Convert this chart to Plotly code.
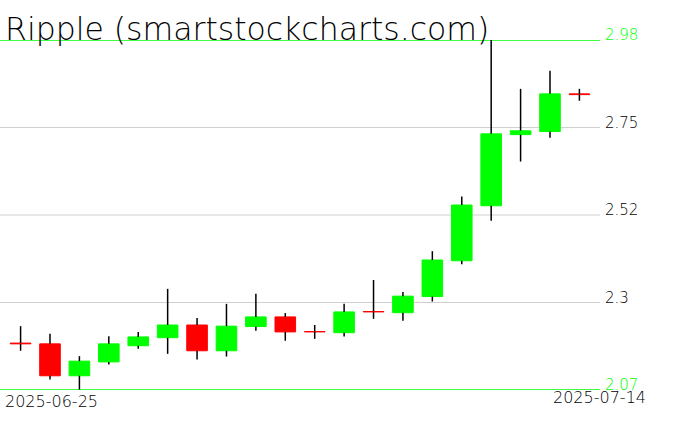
import plotly.graph_objects as go

dates = ["2025-06-25", "2025-06-26", "2025-06-27", "2025-06-28", "2025-06-29",
         "2025-06-30", "2025-07-01", "2025-07-02", "2025-07-03", "2025-07-04",
         "2025-07-05", "2025-07-06", "2025-07-07", "2025-07-08", "2025-07-09",
         "2025-07-10", "2025-07-11", "2025-07-12", "2025-07-13", "2025-07-14"]
open_ = [2.192, 2.190, 2.107, 2.143, 2.185, 2.206, 2.239, 2.172, 2.235, 2.260,
         2.222, 2.219, 2.274, 2.271, 2.313, 2.406, 2.549, 2.734, 2.742, 2.840]
close = [2.190, 2.107, 2.145, 2.190, 2.208, 2.239, 2.172, 2.236, 2.260, 2.221,
         2.221, 2.273, 2.273, 2.314, 2.408, 2.551, 2.736, 2.744, 2.840, 2.838]
high = [2.236, 2.216, 2.158, 2.210, 2.221, 2.333, 2.257, 2.294, 2.320, 2.270,
        2.239, 2.294, 2.356, 2.325, 2.431, 2.573, 2.980, 2.853, 2.900, 2.853]
low = [2.172, 2.097, 2.071, 2.136, 2.177, 2.164, 2.149, 2.157, 2.224, 2.198,
       2.203, 2.209, 2.255, 2.250, 2.300, 2.397, 2.510, 2.664, 2.726, 2.822]

tick_vals = [2.07, 2.2975, 2.525, 2.7525, 2.98]
tick_labels = ["2.07", "2.3", "2.52", "2.75", "2.98"]
edge_ticks = {"2.07", "2.98"}

title = "Ripple (smartstockcharts.com)"

GREEN = "#00ff00"
RED = "#ff0000"
FONT = "DejaVu Sans"

body_base = [min(o, c) for o, c in zip(open_, close)]
body_h = [abs(c - o) for o, c in zip(open_, close)]
body_col = [GREEN if c >= o else RED for o, c in zip(open_, close)]

wx, wy = [], []
for d, o, c, h, l in zip(dates, open_, close, high, low):
    top, bot = max(o, c), min(o, c)
    wx += [d, d, None, d, d, None]
    wy += [h, top, None, bot, l, None]

fig = go.Figure()
fig.add_trace(go.Bar(x=dates, y=body_h, base=body_base, width=0.7,
                     marker=dict(color=body_col, line=dict(color=body_col, width=1)),
                     hoverinfo="skip"))
fig.add_trace(go.Scatter(x=wx, y=wy, mode="lines",
                         line=dict(color="black", width=1.5), hoverinfo="skip"))

shapes = []
annotations = []
for v, lab in zip(tick_vals, tick_labels):
    col = GREEN if lab in edge_ticks else "#d0d0d0"
    shapes.append(dict(type="line", xref="paper", x0=0, x1=1, yref="y", y0=v, y1=v,
                       line=dict(color=col, width=1.5 if lab in edge_ticks else 1),
                       layer="below"))
    annotations.append(dict(text=lab, xref="paper", x=1, xshift=3, xanchor="left",
                            yref="y", y=v, yanchor="bottom", yshift=-6, showarrow=False,
                            font=dict(family=FONT, size=15, weight=200,
                                      color=GREEN if lab in edge_ticks else "black")))

annotations.append(dict(text=title, xref="paper", x=0, xshift=3, xanchor="left",
                        yref="paper", y=1, yanchor="bottom", yshift=-9, showarrow=False,
                        font=dict(family=FONT, size=31.5, weight=200, color="black")))
annotations.append(dict(text=dates[0], xref="paper", x=0, xshift=3, xanchor="left",
                        yref="paper", y=0, yanchor="top", yshift=0, showarrow=False,
                        font=dict(family=FONT, size=16, weight=200, color="black")))
annotations.append(dict(text=dates[-1], xref="paper", x=1, xshift=48, xanchor="right",
                        yref="paper", y=0, yanchor="top", yshift=4, showarrow=False,
                        font=dict(family=FONT, size=16, weight=200, color="black")))

fig.update_layout(
    width=676, height=431,
    margin=dict(l=0, r=76, t=40, b=41),
    paper_bgcolor="white", plot_bgcolor="white",
    showlegend=False,
    shapes=shapes, annotations=annotations,
    xaxis=dict(type="category", range=[-0.7, 19.7], showgrid=False, zeroline=False,
               showticklabels=False, showline=False, ticks=""),
    yaxis=dict(range=[2.07, 2.98], showgrid=False, zeroline=False,
               showticklabels=False, showline=False, ticks=""),
)

fig.write_html("out.html", config={"displayModeBar": False},
               post_script="document.body.style.margin='0';document.body.style.padding='0';")
